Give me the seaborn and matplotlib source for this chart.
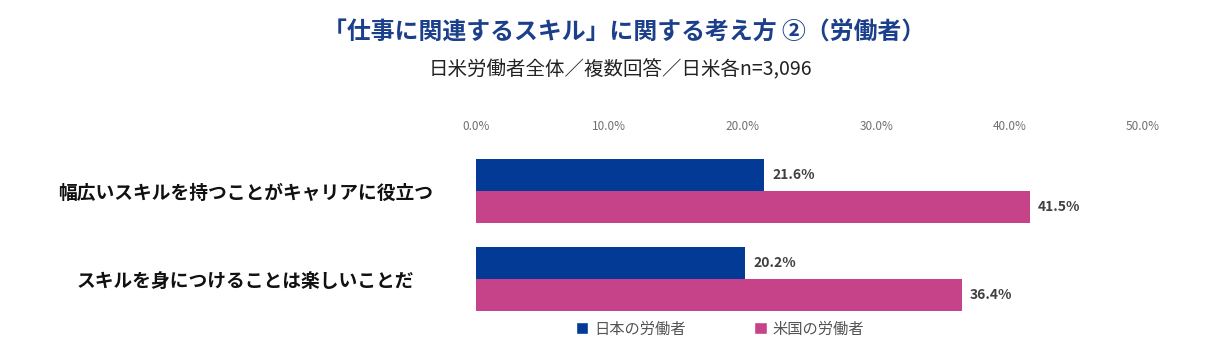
import pandas as pd
import seaborn as sns
import matplotlib.pyplot as plt
from matplotlib.patches import Patch

# data
items = ["幅広いスキルを持つことがキャリアに役立つ", "スキルを身につけることは楽しいことだ"]
japan = [21.6, 20.2]
usa = [41.5, 36.4]
groups = ["日本の労働者", "米国の労働者"]
colors = ["#033a96", "#c6438a"]
x_ticks = [0, 10, 20, 30, 40, 50]

df = pd.DataFrame({
    "item": items * 2,
    "value": japan + usa,
    "group": [groups[0]] * len(items) + [groups[1]] * len(items),
})

sns.set_style("white")
plt.rcParams['font.family'] = ['Noto Sans CJK JP', 'DejaVu Sans']

fig = plt.figure(figsize=(12.08, 3.57), dpi=100)
ax = fig.add_axes([476 / 1208, 1 - 323 / 357, (1143 - 476) / 1208, 176 / 357])

sns.barplot(data=df, x="value", y="item", hue="group", palette=colors,
            orient="h", width=0.727, saturation=1, linewidth=0, ax=ax, legend=False)

ax.set_xlim(0, 50)
ax.set_ylim(1.5, -0.5)
ax.xaxis.tick_top()
ax.set_xticks(x_ticks)
ax.set_xticklabels([f"{t:.1f}%" for t in x_ticks], fontsize=8.5, color="#707070")
ax.tick_params(axis="x", length=0, pad=10)
# labels centred ~231 px left of the axes
ax.tick_params(axis="y", length=0, pad=166)
ax.set_yticks(range(len(items)))
ax.set_yticklabels(items, fontsize=13.5, fontweight="bold", color="#111111", ha="center")
ax.set_xlabel("")
ax.set_ylabel("")
for s in ax.spines.values():
    s.set_visible(False)

for cont in ax.containers:
    ax.bar_label(cont, fmt="%.1f%%", padding=6, fontsize=10, fontweight="bold", color="#404040")

fig.text(0.517, 1 - 33 / 357, "「仕事に関連するスキル」に関する考え方 ②（労働者）",
         ha="center", va="center", fontsize=17.2, fontweight="bold", color="#1b3f8b")
fig.text(0.514, 1 - 70 / 357, "日米労働者全体／複数回答／日米各n=3,096",
         ha="center", va="center", fontsize=14, color="#222222")

handles = [Patch(facecolor=c, label=g) for c, g in zip(colors, groups)]
fig.legend(handles=handles, loc="center", bbox_to_anchor=(720 / 1208, 1 - 329 / 357),
           ncol=2, frameon=False, fontsize=11, handlelength=0.8, handleheight=0.8,
           handletextpad=0.4, columnspacing=4.5, labelcolor="#555555")

plt.savefig("out.png", dpi=100)
